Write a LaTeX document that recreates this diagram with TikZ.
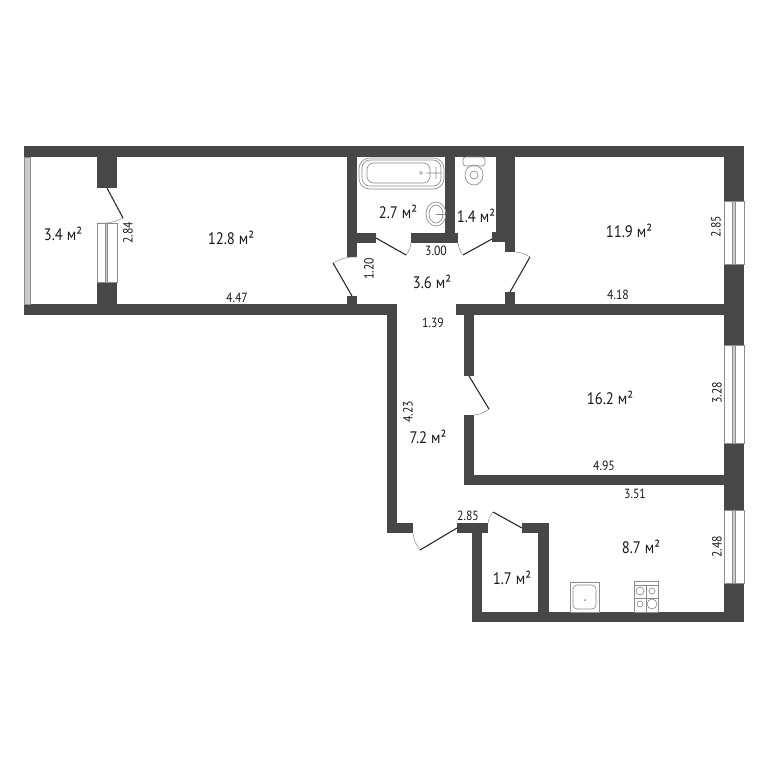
\documentclass[tikz,border=0pt]{standalone}
\usepackage{fontspec}
\setmainfont[FakeStretch=0.88]{PT Sans}
\definecolor{wallgray}{HTML}{474747}
\definecolor{linegray}{HTML}{8C8C8C}
\tikzset{
	wall/.style={fill=wallgray},
	leaf/.style={draw=black!85,line width=0.8pt},
	swing/.style={draw=linegray,line width=0.4pt},
	fixture/.style={draw=linegray,line width=0.5pt},
	pane/.style={draw=linegray,fill=black!20,line width=0.4pt},
	area/.style={font=\fontsize{12.5}{14}\selectfont,text=black!90,inner sep=0pt},
	dim/.style={font=\fontsize{10}{12}\selectfont,text=black!90,inner sep=0pt},
}
\begin{document}
\begin{tikzpicture}[x=0.75pt,y=-0.75pt]
		\useasboundingbox (0,0) rectangle (768,768);
		% walls
		\foreach \xa/\ya/\xb/\yb in {24/146/744/157,24/304/397/315,456/304/725/315,
			97/157/117/188,97/282/117/304,347/157/357/257,357/233/376/243,347/296/357/304,
			411/233/458/243,445/157/455/233,492/232/515/242,496/157/515/232,505/242/515/252,505/292/515/304,
			387/315/397/533,387/523/413/533,464/315/474/376,464/415/474/485,474/475/725/485,
			724/157/744/201,724/264/744/345,724/443/744/510,724/583/744/622,
			472/612/724/622,472/533/482/612,457/523/488/533,522/523/549/533,538/533/549/612} {
			\fill[wall] (\xa,\ya) rectangle (\xb,\yb);
		}
		% windows
		\foreach \xa/\ya/\xb/\yb in {724/201/744/264,724/345/744/443,724/510/744/583} {
			\draw[fixture] (\xa,\ya) rectangle (\xb,\yb);
			\draw[pane] (732.5,\ya) rectangle (735,\yb);
		}
		\draw[fixture] (97,223) rectangle (117,282);
		\draw[pane] (105,223) rectangle (107.5,282);
		\draw[pane] (24,157) rectangle (30,304);
		% doors
		\foreach \xa/\ya/\xb/\yb/\xc/\yc/\bnd in {107/188/123/218/97/223/left,352/296/333/263/357/257/left,
			376/238/406/255/411/243/right,492/239/463/255/458/243/left,510/292/530/257/515/252/right,
			469/376/489/409/474/415/left,457/528/420/550/413/533/left,522/528/493/512/488/523/right} {
			\draw[leaf] (\xa,\ya) -- (\xb,\yb);
			\draw[swing] (\xb,\yb) to[bend \bnd=15] (\xc,\yc);
		}
		% bath and basin
		\draw[fixture,rounded corners=8pt] (359,158) rectangle (444,189);
		\draw[fixture,rounded corners=6pt] (362,160) rectangle (441,186);
		\draw[fixture,rounded corners=5pt] (367,163) rectangle (430,183);
		\draw[fixture] (421,173) circle (1.5) (426,173) -- (441,173) (436,167) -- (436,179);
		\draw[fixture] (436,214) ellipse (10 and 12);
		\draw[fixture] (436,214) ellipse (7 and 9);
		\draw[fixture] (436,214) -- (445,214);
		% toilet
		\draw[fixture,rounded corners=2pt] (463,157) rectangle (485,166);
		\draw[fixture] (474,175) ellipse (9 and 10);
		\draw[fixture] (474,175) circle (4);
		% kitchen sink and stove
		\draw[fixture] (570,582) rectangle (599,612);
		\draw[fixture,rounded corners=3pt] (573,585) rectangle (596,609);
		\fill[linegray] (585,600) circle (1);
		\draw[fixture] (634,581) rectangle (658,612);
		\draw[fixture] (634,585) -- (658,585) (646,585) -- (646,612) (634,598) -- (658,598);
		\foreach \x/\y/\r in {640/591/4,652/591/3,640/604/3,652/604/5} {
			\draw[fixture] (\x,\y) circle (\r);
		}
		% areas
		\node[area] (balcony) at (63,234) {3.4 м²};
		\node[area] (roomone) at (231,238) {12.8 м²};
		\node[area] (bath) at (398,212) {2.7 м²};
		\node[area] (toilet) at (476,216) {1.4 м²};
		\node[area] (lobby) at (432,282) {3.6 м²};
		\node[area] (roomtwo) at (629,231) {11.9 м²};
		\node[area] (roomthree) at (610,398) {16.2 м²};
		\node[area] (hall) at (428,437) {7.2 м²};
		\node[area] (kitchen) at (641,547) {8.7 м²};
		\node[area] (closet) at (512,578) {1.7 м²};
		% dimensions
		\foreach \x/\y/\t in {237/298/4.47,436/251/3.00,433/323/1.39,618/295/4.18,604/466/4.95,635/494/3.51,468/516/2.85} {
			\node[dim] at (\x,\y) {\t};
		}
		\foreach \x/\y/\t in {128/233/2.84,369/269/1.20,716/227/2.85,717/393/3.28,408/412/4.23,717/547/2.48} {
			\node[dim,rotate=90] at (\x,\y) {\t};
		}
\end{tikzpicture}
\end{document}
